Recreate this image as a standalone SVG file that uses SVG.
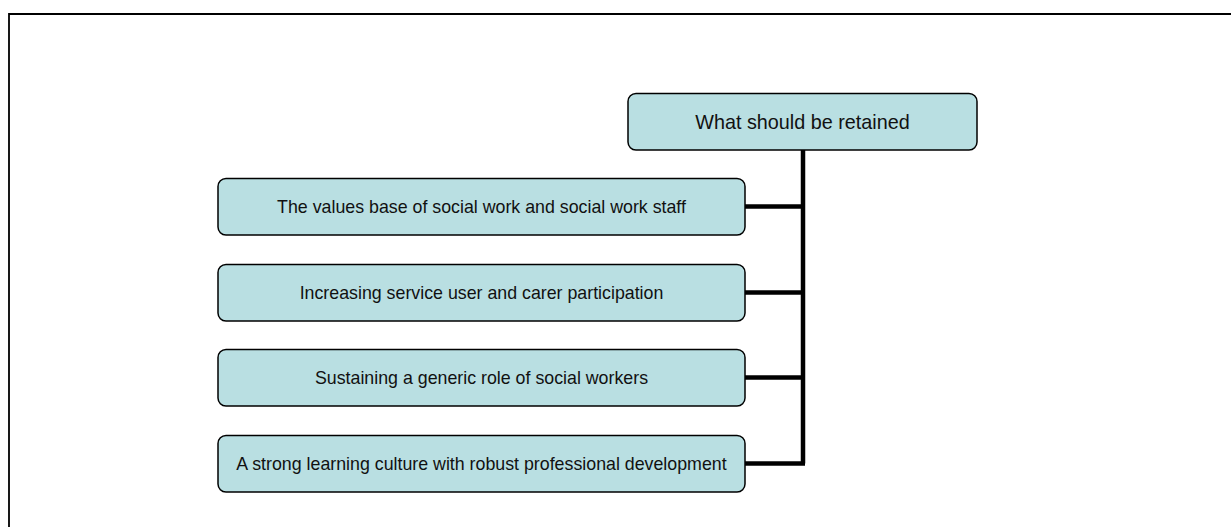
<svg xmlns="http://www.w3.org/2000/svg" width="1231" height="527" viewBox="0 0 1231 527">
  <style>
    .box { fill: #b9dfe2; stroke: #000; stroke-width: 1.5; }
    .label { font-family: "Liberation Sans", Arial, sans-serif; font-size: 17.8px; fill: #111; text-anchor: middle; dominant-baseline: central; }
    .title { font-size: 19.8px; }
    .link { fill: none; stroke: #000; stroke-width: 4.5; }
  </style>
  <rect width="1231" height="527" fill="#fff"/>
  <!-- outer frame -->
  <path d="M9 527 V14 H1231" fill="none" stroke="#000" stroke-width="1.8"/>

  <g id="connectors">
    <path class="link" d="M803 150 V463.5"/>
    <path class="link" d="M745 206.5 H805"/>
    <path class="link" d="M745 292.5 H805"/>
    <path class="link" d="M745 377.5 H805"/>
    <path class="link" d="M745 463.5 H805"/>
  </g>

  <g id="root">
    <rect class="box" x="628" y="93.5" width="349" height="56.5" rx="8"/>
    <text class="label title" x="802.5" y="122">What should be retained</text>
  </g>
  <g id="values">
    <rect class="box" x="218" y="178.5" width="527" height="56.5" rx="8"/>
    <text class="label" x="481.5" y="207">The values base of social work and social work staff</text>
  </g>
  <g id="participation">
    <rect class="box" x="218" y="264.5" width="527" height="56.5" rx="8"/>
    <text class="label" x="481.5" y="293">Increasing service user and carer participation</text>
  </g>
  <g id="generic-role">
    <rect class="box" x="218" y="349.5" width="527" height="56.5" rx="8"/>
    <text class="label" x="481.5" y="378">Sustaining a generic role of social workers</text>
  </g>
  <g id="learning-culture">
    <rect class="box" x="218" y="435.5" width="527" height="56.5" rx="8"/>
    <text class="label" x="481.5" y="464">A strong learning culture with robust professional development</text>
  </g>
</svg>
